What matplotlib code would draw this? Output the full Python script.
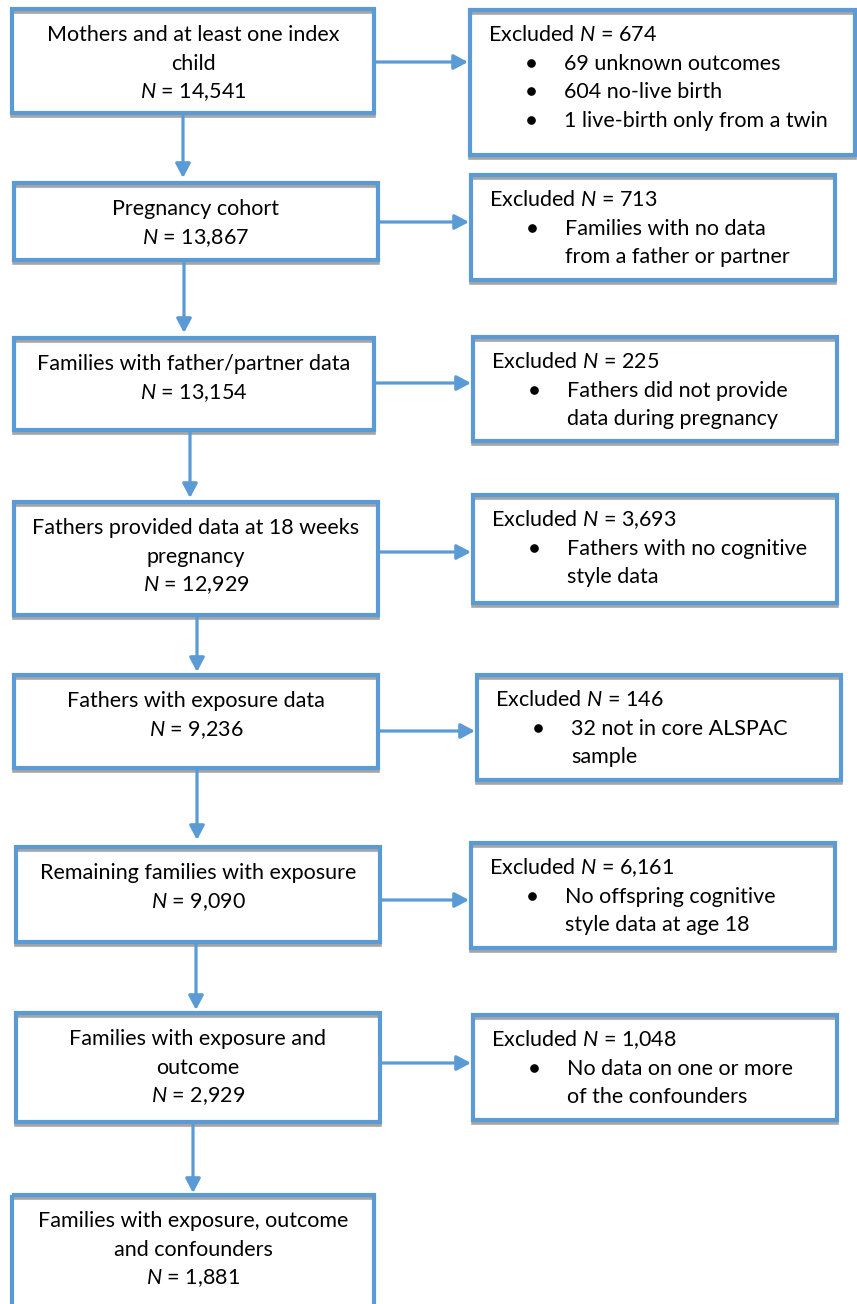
import matplotlib.pyplot as plt
from matplotlib.patches import Rectangle

plt.rcParams['font.family'] = ['Lato', 'DejaVu Sans']
plt.rcParams['mathtext.fontset'] = 'custom'
plt.rcParams['mathtext.rm'] = 'Lato'
plt.rcParams['mathtext.it'] = 'Lato:italic'

# flowchart content
stage_labels = [
    ["Mothers and at least one index", "child"],
    ["Pregnancy cohort"],
    ["Families with father/partner data"],
    ["Fathers provided data at 18 weeks", "pregnancy"],
    ["Fathers with exposure data"],
    ["Remaining families with exposure"],
    ["Families with exposure and", "outcome"],
    ["Families with exposure, outcome", "and confounders"],
]
stage_n = ["14,541", "13,867", "13,154", "12,929", "9,236", "9,090", "2,929", "1,881"]

excluded_n = ["674", "713", "225", "3,693", "146", "6,161", "1,048"]
excluded_reasons = [
    ["69 unknown outcomes", "604 no-live birth", "1 live-birth only from a twin"],
    [["Families with no data", "from a father or partner"]],
    [["Fathers did not provide", "data during pregnancy"]],
    [["Fathers with no cognitive", "style data"]],
    [["32 not in core ALSPAC", "sample"]],
    [["No offspring cognitive", "style data at age 18"]],
    [["No data on one or more", "of the confounders"]],
]

# layout (pixels, y down)
left_boxes = [(12, 9, 374, 113), (14, 183, 378, 260), (14, 338, 374, 430),
              (14, 502, 378, 615), (14, 675, 378, 768), (16, 847, 380, 942),
              (16, 1013, 380, 1122), (12, 1195, 374, 1340)]
right_boxes = [(470, 10, 855, 155), (471, 175, 835, 280), (473, 337, 837, 441),
               (473, 495, 837, 603), (477, 675, 841, 780), (471, 843, 835, 948),
               (473, 1015, 837, 1120)]
down_arrows = [(183, 116, 178), (184, 262, 333), (190, 432, 498), (197, 617, 672),
               (197, 770, 840), (196, 944, 1010), (193, 1125, 1193)]
side_arrow_y = [62, 222, 383, 552, 731, 900, 1063]

BLUE = '#5B9BD5'
GREY = '#A5A5A5'
FS = 15.5
LINE = 28.7

fig = plt.figure(figsize=(8.57, 13.04), dpi=100)
ax = fig.add_axes([0, 0, 1, 1])
ax.set_xlim(0, 857)
ax.set_ylim(1304, 0)
ax.axis('off')


def draw_box(x0, y0, x1, y1):
    ax.add_patch(Rectangle((x0, y0 + 3), x1 - x0, y1 - y0, fill=False,
                           edgecolor=GREY, lw=2.6, zorder=1))
    ax.add_patch(Rectangle((x0, y0), x1 - x0, y1 - y0, fill=False,
                           edgecolor=BLUE, lw=3.0, zorder=2))


def arrow(x0, y0, x1, y1):
    ax.annotate('', xy=(x1, y1), xytext=(x0, y0),
                arrowprops=dict(arrowstyle='-|>,head_length=0.85,head_width=0.45',
                                mutation_scale=10, color=BLUE, lw=2.3,
                                shrinkA=0, shrinkB=0), zorder=3)


for i, (x0, y0, x1, y1) in enumerate(left_boxes):
    draw_box(x0, y0, x1, y1)
    lines = stage_labels[i] + [r'$\mathit{N}$ = ' + stage_n[i]]
    cx = (x0 + x1) / 2
    for k, t in enumerate(lines):
        ax.text(cx, y0 + 25 + k * LINE + 7, t, ha='center', va='baseline',
                fontsize=FS, color='black', zorder=4)

for i, (x0, y0, x1, y1) in enumerate(right_boxes):
    draw_box(x0, y0, x1, y1)
    ax.text(x0 + 18, y0 + 24 + 7, r'Excluded $\mathit{N}$ = ' + excluded_n[i],
            ha='left', va='baseline', fontsize=FS, zorder=4)
    k = 1
    for item in excluded_reasons[i]:
        parts = item if isinstance(item, list) else [item]
        ax.plot(x0 + 61, y0 + 24 + k * LINE, 'o', ms=5.2, color='black', zorder=4)
        for p in parts:
            ax.text(x0 + 94, y0 + 24 + k * LINE + 7, p, ha='left',
                    va='baseline', fontsize=FS, zorder=4)
            k += 1

for x, ya, yb in down_arrows:
    arrow(x, ya, x, yb)

for i, y in enumerate(side_arrow_y):
    arrow(left_boxes[i][2] + 2, y, right_boxes[i][0] - 2, y)

fig.savefig('out.png', dpi=100, facecolor='white')
